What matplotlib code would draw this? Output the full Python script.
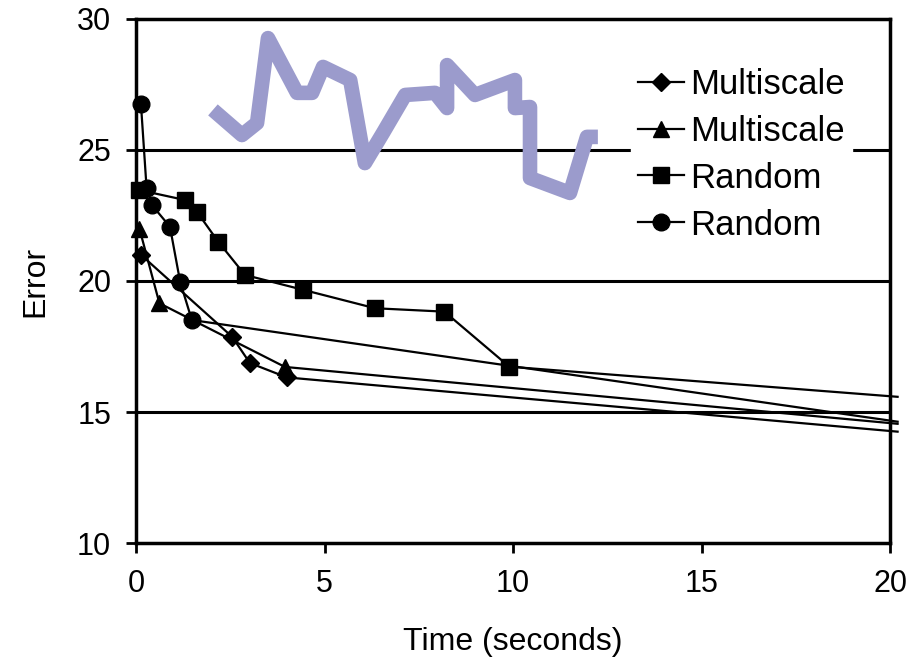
import matplotlib
matplotlib.use("Agg")
import matplotlib.pyplot as plt

plt.rcParams['font.family'] = ['Liberation Sans', 'DejaVu Sans']

# данные (последняя точка - продолжение линии за край)
ms_diamond_x = [0.13, 2.55, 3.02, 4.0, 20.2]
ms_diamond_y = [21.0, 17.87, 16.87, 16.32, 14.25]

ms_triangle_x = [0.09, 0.62, 3.95, 20.2]
ms_triangle_y = [22.0, 19.15, 16.72, 14.55]

rnd_square_x = [0.09, 1.3, 1.61, 2.18, 2.89, 4.44, 6.34, 8.18, 9.9, 20.2]
rnd_square_y = [23.47, 23.09, 22.65, 21.5, 20.23, 19.66, 18.96, 18.83, 16.73, 15.58]

rnd_circle_x = [0.13, 0.28, 0.42, 0.9, 1.17, 1.48, 20.2]
rnd_circle_y = [26.76, 23.54, 22.9, 22.07, 19.97, 18.51, 14.63]

# рукописная волнистая пометка поверх графика
squiggle_x = [2.04, 2.81, 3.21, 3.50, 4.27, 4.67, 4.96, 5.68, 6.07, 6.55, 7.14,
              7.93, 8.25, 8.25, 8.99, 10.05, 10.05, 10.45, 10.45, 11.51, 11.96, 12.25]
squiggle_y = [26.53, 25.57, 26.03, 29.27, 27.18, 27.18, 28.17, 27.67, 24.50, 25.65, 27.10,
              27.18, 26.60, 28.24, 27.10, 27.67, 26.60, 26.64, 23.93, 23.36, 25.50, 25.50]

labels = ["Multiscale", "Multiscale", "Random", "Random"]

fig = plt.figure(figsize=(9.21, 6.68), dpi=100)
ax = fig.add_axes([0.1477, 0.1871, 0.8187, 0.7845])

for y in [15, 20, 25]:
    ax.axhline(y, color='black', lw=2.2, zorder=1)

common = dict(color='black', lw=1.6, clip_on=False, zorder=3)
ax.plot(ms_diamond_x, ms_diamond_y, marker='D', ms=9, label=labels[0],
        markevery=list(range(len(ms_diamond_x) - 1)), **common)
ax.plot(ms_triangle_x, ms_triangle_y, marker='^', ms=11, label=labels[1],
        markevery=list(range(len(ms_triangle_x) - 1)), **common)
ax.plot(rnd_square_x, rnd_square_y, marker='s', ms=11.5, label=labels[2],
        markevery=list(range(len(rnd_square_x) - 1)), **common)
ax.plot(rnd_circle_x, rnd_circle_y, marker='o', ms=12, label=labels[3],
        markevery=list(range(len(rnd_circle_x) - 1)), **common)

ax.plot(squiggle_x, squiggle_y, color='#9b9bcc', lw=10.5,
        solid_joinstyle='round', solid_capstyle='butt', zorder=4)

ax.set_xlim(0, 20)
ax.set_ylim(10, 30)
ax.set_xticks([0, 5, 10, 15, 20])
ax.set_yticks([10, 15, 20, 25, 30])

for s in ax.spines.values():
    s.set_linewidth(2.5)
ax.tick_params(axis='both', direction='out', length=7, width=2, labelsize=22)
ax.tick_params(axis='y', pad=11)
ax.tick_params(axis='x', pad=12)

ax.set_xlabel("Time (seconds)", fontsize=23, labelpad=20)
ax.set_ylabel("Error", fontsize=23, labelpad=19)

leg = ax.legend(loc='upper left', bbox_to_anchor=(0.657, 0.92), fontsize=25,
                frameon=True, fancybox=False, framealpha=1, borderaxespad=0,
                borderpad=0.2, labelspacing=0.4, handlelength=1.3,
                handletextpad=0.2)
leg.get_frame().set_edgecolor('white')
leg.set_zorder(5)

fig.savefig("out.png", dpi=100)
